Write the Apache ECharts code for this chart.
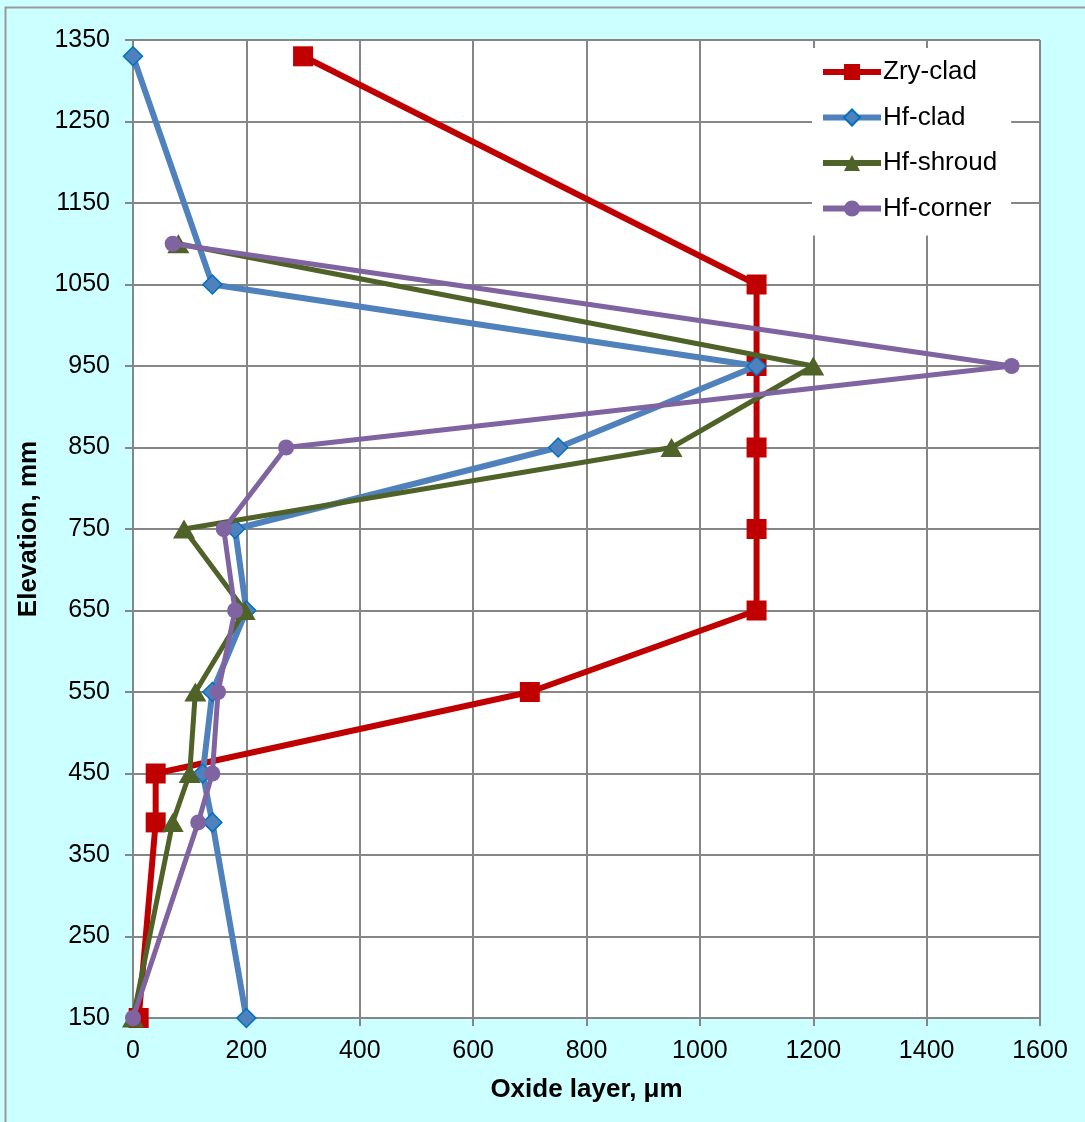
<!DOCTYPE html>
<html><head><meta charset="utf-8">
<script src="https://cdn.jsdelivr.net/npm/echarts@6/dist/echarts.min.js"></script>
<style>html,body{margin:0;padding:0;background:#CCFFFF;}#c{width:1085px;height:1122px;}</style>
</head><body><div id="c"></div>
<script>
const elevations = [1330, 1050, 950, 850, 750, 650, 550, 450, 390, 150];
const elevationsHf = [1330, 1050, 950, 850, 750, 650, 550, 450, 390, 150];
const elevationsShroud = [1100, 950, 850, 750, 650, 550, 450, 390, 150];
const zryClad = [300, 1100, 1100, 1100, 1100, 1100, 700, 40, 40, 10];
const hfClad = [0, 140, 1100, 750, 180, 200, 140, 123, 140, 200];
const hfShroud = [80, 1200, 950, 90, 197, 110, 100, 70, 0];
const hfCorner = [70, 1550, 270, 160, 180, 150, 140, 115, 0];
const seriesNames = ['Zry-clad', 'Hf-clad', 'Hf-shroud', 'Hf-corner'];

function pairs(xs, ys) { return xs.map((x, i) => [x, ys[i]]); }

const chart = echarts.init(document.getElementById('c'));
const font = 'Arial, "Liberation Sans", sans-serif';
const gridCol = '#868686';
chart.setOption({
  backgroundColor: '#CCFFFF',
  animation: false,
  graphic: [{type: 'rect', left: 3, top: 5, shape: {width: 1200, height: 1200}, style: {fill: 'none', stroke: '#999999', lineWidth: 2}, z: -1}],
  grid: {left: 133, right: 45, top: 40, bottom: 104, backgroundColor: '#fff', show: true, borderWidth: 0},
  legend: {
    left: 812, top: 48, orient: 'vertical', itemGap: 19.5, itemWidth: 58, itemHeight: 20,
    backgroundColor: '#fff', padding: [11, 14, 14, 8],
    lineStyle: {width: 6},
    textStyle: {fontFamily: font, fontSize: 26, color: '#000', padding: [0, 0, 0, -3]},
    data: seriesNames
  },
  xAxis: {
    type: 'value', min: 0, max: 1600, interval: 200,
    name: 'Oxide layer, μm', nameLocation: 'middle', nameGap: 59,
    nameTextStyle: {fontFamily: font, fontSize: 26, fontWeight: 'bold', color: '#000'},
    axisLine: {show: true, lineStyle: {color: gridCol, width: 2}},
    axisTick: {show: true, length: 8, lineStyle: {color: gridCol, width: 2}},
    axisLabel: {fontFamily: font, fontSize: 25, color: '#000', margin: 21, formatter: v => String(v)},
    splitLine: {show: true, lineStyle: {color: gridCol, width: 2}}
  },
  yAxis: {
    type: 'value', min: 150, max: 1350, interval: 100,
    name: 'Elevation, mm', nameLocation: 'middle', nameGap: 91, nameRotate: 90,
    nameTextStyle: {fontFamily: font, fontSize: 26, fontWeight: 'bold', color: '#000'},
    axisLine: {show: true, lineStyle: {color: gridCol, width: 2}},
    axisTick: {show: true, length: 8, lineStyle: {color: gridCol, width: 2}},
    axisLabel: {fontFamily: font, fontSize: 25, color: '#000', margin: 23, formatter: v => String(v)},
    splitLine: {show: true, lineStyle: {color: gridCol, width: 2}}
  },
  series: [
    {name: seriesNames[0], type: 'line', data: pairs(zryClad, elevations), symbol: 'rect', symbolSize: 20,
      lineStyle: {color: '#C00000', width: 6}, itemStyle: {color: '#C00000'}, z: 2},
    {name: seriesNames[1], type: 'line', data: pairs(hfClad, elevationsHf), symbol: 'diamond', symbolSize: 19,
      lineStyle: {color: '#4F81BD', width: 6}, itemStyle: {color: '#4F81BD', borderColor: '#0070C0', borderWidth: 1.5}, z: 3},
    {name: seriesNames[2], type: 'line', data: pairs(hfShroud, elevationsShroud), symbol: 'triangle', symbolSize: [22, 19],
      lineStyle: {color: '#4F6228', width: 5}, itemStyle: {color: '#4F6228'}, z: 4},
    {name: seriesNames[3], type: 'line', data: pairs(hfCorner, elevationsShroud), symbol: 'circle', symbolSize: 16,
      lineStyle: {color: '#8064A2', width: 5}, itemStyle: {color: '#8064A2'}, z: 5}
  ]
});
</script></body></html>
